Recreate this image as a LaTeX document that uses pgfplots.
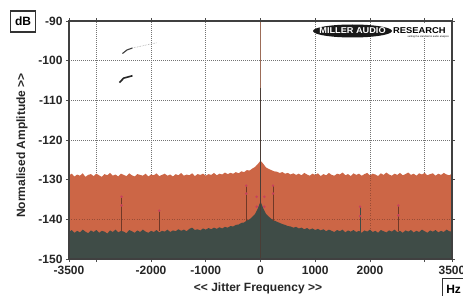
\documentclass[border=0pt]{standalone}
\usepackage{pgfplots}
\pgfplotsset{compat=1.18}
\usepackage{pgfplotstable}
\usepackage{fontspec}
\setmainfont{Liberation Sans}[Ligatures=TeXOff]
\setsansfont{Liberation Sans}[Ligatures=TeXOff]
\definecolor{orng}{HTML}{CC6646}
\definecolor{dgrn}{HTML}{3F4C47}
\definecolor{spk}{HTML}{4A3D36}
\definecolor{pnk}{HTML}{C8405E}
\definecolor{brn}{HTML}{9C6C58}

\pgfplotstableread{
x y
-3500 -150
-3500 -128.9
-3450 -128.5
-3400 -129.2
-3350 -128.7
-3300 -129.0
-3250 -128.4
-3200 -129.3
-3150 -128.8
-3100 -128.6
-3050 -129.1
-3000 -128.5
-2950 -128.9
-2900 -129.3
-2850 -128.6
-2800 -128.9
-2750 -128.3
-2700 -129.0
-2650 -128.7
-2600 -129.2
-2550 -128.5
-2500 -128.8
-2450 -129.1
-2400 -128.4
-2350 -128.9
-2300 -129.2
-2250 -128.6
-2200 -128.8
-2150 -129.0
-2100 -128.5
-2050 -129.2
-2000 -128.7
-1950 -128.9
-1900 -128.4
-1850 -129.1
-1800 -128.8
-1750 -128.5
-1700 -129.0
-1650 -128.7
-1600 -129.2
-1550 -128.6
-1500 -128.9
-1450 -128.3
-1400 -129.0
-1350 -128.7
-1300 -128.9
-1250 -128.4
-1200 -129.1
-1150 -128.6
-1100 -128.8
-1050 -128.5
-1000 -129.0
-950 -128.6
-900 -128.8
-850 -128.3
-800 -128.9
-750 -128.5
-700 -128.7
-650 -128.2
-600 -128.6
-550 -128.3
-500 -128.5
-450 -128.1
-400 -128.4
-350 -127.9
-300 -128.1
-250 -127.6
-200 -127.7
-150 -127.2
-100 -126.8
-50 -126.1
0 -125.2
50 -126.0
100 -126.9
150 -127.3
200 -127.6
250 -127.9
300 -128.0
350 -128.3
400 -128.1
450 -128.5
500 -128.3
550 -128.7
600 -128.4
650 -128.8
700 -128.5
750 -128.9
800 -128.3
850 -128.7
900 -129.0
950 -128.5
1000 -128.8
1050 -128.4
1100 -129.1
1150 -128.6
1200 -128.9
1250 -128.3
1300 -128.8
1350 -129.0
1400 -128.5
1450 -128.7
1500 -128.2
1550 -128.9
1600 -128.6
1650 -129.1
1700 -128.4
1750 -128.8
1800 -128.5
1850 -129.0
1900 -128.6
1950 -128.3
2000 -128.9
2050 -128.5
2100 -128.7
2150 -129.1
2200 -128.4
2250 -128.8
2300 -128.2
2350 -128.7
2400 -129.0
2450 -128.5
2500 -128.8
2550 -128.3
2600 -128.9
2650 -128.6
2700 -128.2
2750 -128.8
2800 -128.5
2850 -129.0
2900 -128.4
2950 -128.7
3000 -128.3
3050 -128.9
3100 -128.6
3150 -128.4
3200 -129.0
3250 -128.5
3300 -128.8
3350 -128.3
3400 -128.7
3450 -128.9
3500 -128.5
3500 -150
}\orangetable

\pgfplotstableread{
x y
-3500 -150
-3500 -143.2
-3450 -142.7
-3400 -143.4
-3350 -142.9
-3300 -143.3
-3250 -142.6
-3200 -143.1
-3150 -143.5
-3100 -142.8
-3050 -143.2
-3000 -142.7
-2950 -143.4
-2900 -142.9
-2850 -143.1
-2800 -143.6
-2750 -142.8
-2700 -143.2
-2650 -142.6
-2600 -143.3
-2550 -142.9
-2500 -143.1
-2450 -143.5
-2400 -142.7
-2350 -143.0
-2300 -143.4
-2250 -142.8
-2200 -143.2
-2150 -142.6
-2100 -143.1
-2050 -143.4
-2000 -142.9
-1950 -143.2
-1900 -142.7
-1850 -143.3
-1800 -142.9
-1750 -143.1
-1700 -142.6
-1650 -143.2
-1600 -142.8
-1550 -143.0
-1500 -142.5
-1450 -142.9
-1400 -142.6
-1350 -143.0
-1300 -142.4
-1250 -142.1
-1200 -142.7
-1150 -142.5
-1100 -142.8
-1050 -142.3
-1000 -142.6
-950 -142.2
-900 -142.5
-850 -142.1
-800 -142.4
-750 -142.0
-700 -142.3
-650 -141.9
-600 -142.1
-550 -141.7
-500 -141.8
-450 -141.4
-400 -141.3
-350 -140.9
-300 -140.8
-250 -140.3
-200 -140.0
-150 -139.4
-100 -138.7
-50 -137.3
0 -135.5
50 -137.2
100 -138.6
150 -139.3
200 -139.9
250 -140.3
300 -140.6
350 -140.9
400 -141.2
450 -141.4
500 -141.7
550 -141.8
600 -142.1
650 -141.9
700 -142.3
750 -142.1
800 -142.5
850 -142.2
900 -142.6
950 -142.3
1000 -142.7
1050 -142.4
1100 -142.8
1150 -142.5
1200 -143.0
1250 -142.6
1300 -142.9
1350 -143.2
1400 -142.7
1450 -143.0
1500 -142.6
1550 -143.3
1600 -142.8
1650 -143.1
1700 -142.7
1750 -143.2
1800 -142.9
1850 -143.4
1900 -142.8
1950 -143.1
2000 -142.6
2050 -143.2
2100 -142.9
2150 -143.4
2200 -142.7
2250 -143.0
2300 -143.3
2350 -142.8
2400 -143.1
2450 -142.6
2500 -143.2
2550 -142.9
2600 -143.4
2650 -142.8
2700 -143.1
2750 -142.7
2800 -143.3
2850 -142.9
2900 -143.2
2950 -142.6
3000 -143.0
3050 -143.4
3100 -142.8
3150 -143.1
3200 -142.7
3250 -143.3
3300 -142.9
3350 -143.2
3400 -142.6
3450 -143.0
3500 -143.1
3500 -150
}\greytable

\begin{document}
\begin{tikzpicture}[x=1pt,y=1pt]
\path[use as bounding box, fill=white] (0,0) rectangle (463,295);
\begin{axis}[
  at={(69pt,36pt)}, anchor=south west,
  scale only axis, width=383pt, height=238pt,
  xmin=-3500, xmax=3500, ymin=-150, ymax=-90,
  xtick={-3500,-3000,-2000,-1000,0,1000,2000,3000,3500},
  xticklabels={-3500,,-2000,-1000,0,1000,2000,,3500},
  ytick={-150,-140,-130,-120,-110,-100,-90},
  yticklabels={-150,-140,-130,-120,-110,-100,-90},
  tick label style={font=\bfseries\fontsize{12}{14}\selectfont, text=black!85},
  xticklabel style={yshift=-1pt},
  tick align=outside, major tick length=3pt,
  tick style={black!70, line width=0.8pt},
  axis line style={black!75, line width=1.2pt},
  grid=major,
  major grid style={black!55, line width=0.6pt, dash pattern=on 1pt off 1pt},
  clip=true,
]
\addplot[fill=orng, draw=none] table {\orangetable};
% faint grid traces visible through the orange
\addplot[orng!75!black, line width=0.5pt, dash pattern=on 1pt off 1.5pt] coordinates {(-3500,-140)(3500,-140)};
\addplot[orng!75!black, line width=0.5pt, dash pattern=on 1pt off 1.5pt] coordinates {(2000,-143)(2000,-129)};
\addplot[fill=dgrn, draw=none] table {\greytable};
% zero line tinted
\addplot[brn, line width=0.8pt] coordinates {(0,-125)(0,-90)};
% sideband lines
\addplot[orng!55!black, line width=0.5pt] coordinates {(-2540,-143)(-2540,-134.3)};
\addplot[orng!55!black, line width=0.5pt] coordinates {(-1850,-143)(-1850,-137.8)};
\addplot[orng!55!black, line width=0.5pt] coordinates {(-260,-140.3)(-260,-131.5)};
\addplot[orng!55!black, line width=0.5pt] coordinates {(230,-140.3)(230,-131.5)};
\addplot[dgrn, line width=0.6pt] coordinates {(1820,-150)(1820,-136.8)};
\addplot[orng!55!black, line width=0.5pt] coordinates {(2520,-143)(2520,-136.5)};
% carrier spike
\addplot[spk, line width=1.4pt] coordinates {(0,-150)(0,-107)};
% sideband markers
\addplot[only marks, mark=*, mark size=1pt, pnk] coordinates {
(-2540,-134.3)(-2540,-136.5)(-1850,-137.8)
(-260,-131.5)(-260,-133.5)(-70,-134.3)(-70,-136.8)
(70,-134.3)(70,-136.8)(230,-131.5)(230,-133.5)
(1820,-136.8)(1820,-139.2)(2520,-136.5)(2520,-139)};
% scan marks
\addplot[black!85, line width=1.6pt] coordinates {(-2578,-105.5)(-2500,-104.4)(-2340,-103.8)};
\addplot[black!75, line width=1.1pt] coordinates {(-2523,-98.2)(-2440,-97.3)(-2340,-96.8)};
\addplot[black!35, line width=0.6pt, densely dotted] coordinates {(-2340,-96.8)(-1900,-95.5)};
\end{axis}
% frame redrawn over the fills
\draw[black!75, line width=1.2pt] (69,36) rectangle (452,274);
% logo
\fill[white] (392,256.5) rectangle (450.5,271);
\fill[black!90] (352.5,264) ellipse [x radius=39.5, y radius=6.5];
\node[text=white, font=\bfseries\fontsize{8.5}{8.5}\selectfont, xscale=1.08, inner sep=0] at (352.5,264) {MILLER AUDIO};
\node[font=\bfseries\fontsize{8.5}{8.5}\selectfont, anchor=west, xscale=1.1, inner sep=0] at (393,264.5) {RESEARCH};
\node[font=\fontsize{2.5}{3}\selectfont, anchor=north east, inner sep=0] at (449,259.5) {setting the standard in audio analysis};
% dB and Hz boxes
\node[draw=black!80, line width=1.2pt, font=\bfseries\fontsize{12}{14}\selectfont, minimum width=25pt, minimum height=21pt, inner sep=1pt] at (23,273.5) {dB};
\node[draw=black!80, line width=1.2pt, font=\bfseries\fontsize{12}{14}\selectfont, minimum width=22pt, minimum height=21pt, inner sep=1pt, anchor=north west] at (442,17) {Hz};
% axis labels
\node[rotate=90, font=\bfseries\fontsize{12}{14}\selectfont, text=black!85] at (22,149.5) {Normalised Amplitude >>};
\node[font=\bfseries\fontsize{12}{14}\selectfont, text=black!85] at (258,6.5) {<< Jitter Frequency >>};
\end{tikzpicture}
\end{document}
